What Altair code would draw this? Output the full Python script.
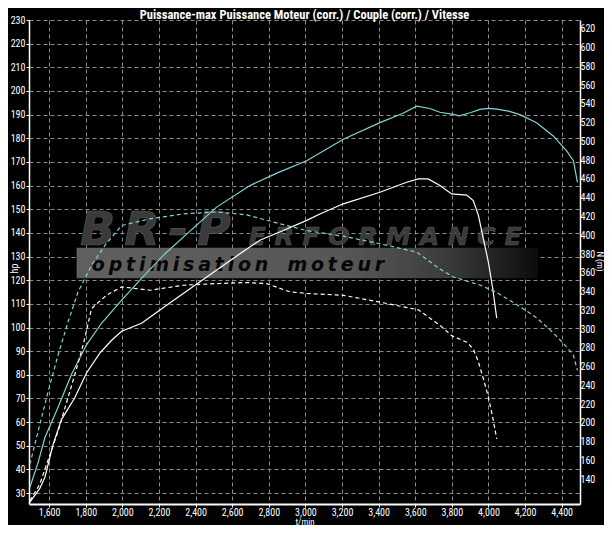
import altair as alt
import pandas as pd

TITLE = "Puissance-max Puissance Moteur (corr.) / Couple (corr.) / Vitesse"
FONT = "Liberation Sans Narrow, Roboto Condensed, DejaVu Sans Condensed, Arial Narrow, sans-serif"

# axis ticks
x_ticks = list(range(1600, 4401, 200))
hp_ticks = list(range(30, 231, 10))
nm_ticks = list(range(140, 621, 20))

# Puissance (hp) - courbe cyan
rpm_p1 = [1495, 1540, 1577, 1640, 1722, 1804, 1886, 1996, 2105, 2230, 2380, 2515,
          2697, 2850, 3007, 3207, 3407, 3530, 3608, 3680, 3735, 3808, 3840, 3900,
          3953, 4000, 4045, 4110, 4172, 4263, 4354, 4427, 4464, 4486]
hp_p1 = [32.5, 43.0, 53.5, 64.7, 80.1, 92.7, 101.8, 111.6, 120.8, 131.0, 141.5, 150.9,
         160.0, 165.5, 170.5, 179.6, 186.6, 190.5, 193.6, 192.6, 191.0, 190.1, 189.5, 190.8,
         192.2, 192.6, 192.3, 191.5, 190.0, 186.6, 181.0, 174.7, 170.5, 161.4]

# Puissance (hp) - courbe blanche
rpm_p2 = [1495, 1549, 1577, 1622, 1668, 1740, 1804, 1877, 1940, 1996, 2105, 2232,
          2387, 2500, 2605, 2751, 2879, 3007, 3079, 3207, 3407, 3553, 3617, 3671,
          3735, 3799, 3881, 3917, 3945, 3972, 3999, 4023, 4045]
hp_p2 = [26.2, 32.0, 36.7, 50.7, 61.2, 70.3, 80.8, 89.2, 94.5, 98.4, 101.8, 108.9,
         117.3, 123.5, 129.2, 136.9, 141.0, 145.3, 148.0, 152.3, 157.2, 161.4, 162.8, 162.8,
         160.0, 156.5, 156.0, 153.7, 147.4, 137.6, 127.8, 116.6, 104.0]

# Couple (N m) - tirets cyan
rpm_c1 = [1495, 1540, 1595, 1649, 1704, 1758, 1832, 1904, 1996, 2150, 2333, 2516,
          2679, 2843, 3007, 3207, 3407, 3608, 3735, 3808, 3953, 4045, 4172, 4263,
          4354, 4427, 4464, 4486]
nm_c1 = [155.9, 191.3, 233.7, 272.5, 307.9, 339.7, 367.9, 389.1, 410.4, 417.5, 422.8, 424.9,
         421.7, 413.2, 405.0, 399.0, 391.0, 382.0, 364.0, 355.5, 347.0, 339.0, 324.0, 312.0,
         296.0, 281.0, 272.0, 256.0]

# Couple (N m) - tirets blancs
rpm_c2 = [1495, 1549, 1649, 1740, 1786, 1832, 1914, 1996, 2151, 2333, 2516, 2679,
          2788, 2915, 3007, 3207, 3400, 3617, 3735, 3799, 3881, 3917, 3945, 3972,
          3999, 4023, 4045]
nm_c2 = [117.0, 134.6, 191.3, 251.3, 283.1, 322.0, 336.1, 345.0, 341.4, 346.7, 348.5, 349.6,
         348.5, 339.7, 338.0, 336.0, 329.0, 320.5, 304.0, 293.0, 286.0, 279.0, 265.0, 247.0,
         228.0, 206.0, 183.0]

# watermark (logo) texts
logo_big = "\u2009".join("BR-P")
logo_rest = "E R F O R M A N C E"
logo_sub = "\u2009".join("optimisation") + "\u2003" + "\u2009".join("moteur")

# scales / axes
xscale = alt.Scale(domain=[1490, 4500], nice=False, zero=False)
yscaleL = alt.Scale(domain=[25.4, 230], nice=False, zero=False)
yscaleR = alt.Scale(domain=[113.5, 629.5], nice=False, zero=False)

GRID = dict(gridColor="#8c8c8c", gridDash=[4, 3], gridWidth=1, gridOpacity=1)
LAB = dict(labelColor="white", labelFont=FONT, labelFontSize=10,
           titleColor="white", titleFont=FONT, titleFontSize=10, titleFontWeight="normal")

axis_x = alt.Axis(values=x_ticks, format=",d", title="t/min", grid=True, **GRID,
                  labelColor="white", labelFont=FONT, labelFontSize=10,
                  titleColor="white", titleFont=FONT, titleFontSize=9, titleFontWeight="normal",
                  domainColor="white", domainWidth=2, tickColor="white", tickSize=3,
                  labelPadding=0, labelFlush=False, labelOverlap=False,
                  titleY=17, titleBaseline="middle")
axis_L = alt.Axis(values=hp_ticks, title="hp", grid=True, **GRID, **LAB,
                  domainColor="white", domainWidth=1.5, tickColor="white", tickSize=3,
                  labelPadding=1, labelOverlap=False, labelFlush=False,
                  titleX=-15, titleY=248, titleAngle=270, titleAlign="center",
                  titleBaseline="middle")
axis_R = alt.Axis(orient="right", values=nm_ticks, title="N (m)", grid=False,
                  labelColor="white", labelFont=FONT, labelFontSize=10,
                  titleColor="white", titleFont=FONT, titleFontSize=9, titleFontWeight="normal",
                  domainColor="white", domainWidth=1.5, ticks=False,
                  labelPadding=0, labelOverlap=False, labelFlush=False,
                  titleX=19, titleY=241, titleAngle=90, titleAlign="center",
                  titleBaseline="middle")


def X(f):
    return alt.X(f"{f}:Q", scale=xscale, axis=axis_x)


def YL(f):
    return alt.Y(f"{f}:Q", scale=yscaleL, axis=axis_L)


def YR(f):
    return alt.Y(f"{f}:Q", scale=yscaleR, axis=axis_R)


df_p1 = pd.DataFrame({"rpm": rpm_p1, "v": hp_p1})
df_p2 = pd.DataFrame({"rpm": rpm_p2, "v": hp_p2})
df_c1 = pd.DataFrame({"rpm": rpm_c1, "v": nm_c1})
df_c2 = pd.DataFrame({"rpm": rpm_c2, "v": nm_c2})

CYAN = "#86d3d3"

# watermark, placed in chart coordinates (rpm / hp)
banner = alt.Chart(pd.DataFrame({"r0": [1750], "r1": [4270], "h0": [120.8], "h1": [133.7]})).mark_rect(
    color=alt.Gradient(gradient="linear", x1=0, x2=1, y1=0, y2=0,
                       stops=[alt.GradientStop(offset=0, color="#606060"),
                              alt.GradientStop(offset=0.6, color="#565656"),
                              alt.GradientStop(offset=0.8, color="#3c3c3c"),
                              alt.GradientStop(offset=1, color="#0c0c0c")])
).encode(x=X("r0"), x2="r1", y=YL("h0"), y2="h1")

t_big = alt.Chart(pd.DataFrame({"r": [1768], "h": [135.0], "t": [logo_big]})).mark_text(
    align="left", baseline="alphabetic", font="DejaVu Sans", fontSize=46,
    fontStyle="italic", fontWeight="bold", color="#3a3a3a", stroke="#5a5a5a", strokeWidth=0.6
).encode(x=X("r"), y=YL("h"), text="t:N")

t_rest = alt.Chart(pd.DataFrame({"r": [2690], "h": [135.0], "t": [logo_rest]})).mark_text(
    align="left", baseline="alphabetic", font="DejaVu Sans", fontSize=25,
    fontStyle="italic", fontWeight="bold", color="#3a3a3a", stroke="#5a5a5a", strokeWidth=0.5
).encode(x=X("r"), y=YL("h"), text="t:N")

t_sub = alt.Chart(pd.DataFrame({"r": [1833], "h": [124.1], "t": [logo_sub]})).mark_text(
    align="left", baseline="alphabetic", font="DejaVu Sans", fontSize=19,
    fontStyle="italic", fontWeight="bold", color="#060606"
).encode(x=X("r"), y=YL("h"), text="t:N")

p1 = alt.Chart(df_p1).mark_line(color=CYAN, strokeWidth=1.2).encode(x=X("rpm"), y=YL("v"))
p2 = alt.Chart(df_p2).mark_line(color="white", strokeWidth=1.2).encode(x=X("rpm"), y=YL("v"))
c1 = alt.Chart(df_c1).mark_line(color=CYAN, strokeWidth=1.2, strokeDash=[4, 3]).encode(x=X("rpm"), y=YR("v"))
c2 = alt.Chart(df_c2).mark_line(color="white", strokeWidth=1.2, strokeDash=[4, 3]).encode(x=X("rpm"), y=YR("v"))

left = alt.layer(banner, t_big, t_rest, t_sub, p1, p2)
right = alt.layer(c1, c2)

chart = alt.layer(left, right).resolve_scale(y="independent").properties(
    width=551, height=484,
    autosize=alt.AutoSizeParams(type="none"),
    padding={"left": 21, "top": 12, "right": 24, "bottom": 21},
    title=alt.TitleParams(TITLE, color="white", font=FONT, fontSize=12.5, fontWeight="bold",
                          anchor="middle", offset=-6),
    background="black",
).configure_view(stroke=None).configure_axis(zindex=1)

chart.save("out.html", embed_options={"renderer": "svg", "actions": False})
